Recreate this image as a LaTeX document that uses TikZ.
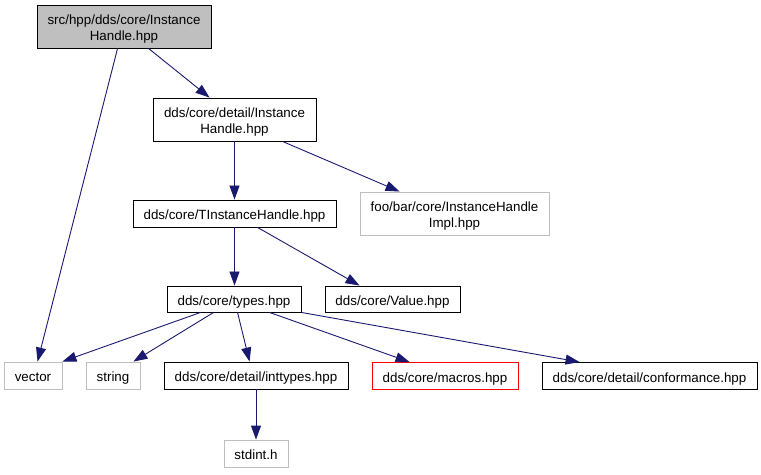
\documentclass[tikz,border=0pt]{standalone}
\usepackage{fontspec}
\setmainfont{Liberation Sans}
\usetikzlibrary{arrows.meta}
\definecolor{edgeblue}{HTML}{191970}
\definecolor{lgray}{HTML}{BFBFBF}
\newcommand\boxlbl[1]{\raisebox{-3bp}[\height][\depth]{\begin{tabular}{@{}c@{}}#1\end{tabular}}}
\tikzset{
  box/.style={draw=black,line width=0.9bp,inner sep=0pt,font=\fontsize{13.4}{16.1}\selectfont},
  greybox/.style={box,draw=lgray},
  redbox/.style={box,draw=red},
  edge/.style={draw=edgeblue,line width=0.9bp,-{Triangle[length=14bp,width=10bp]}},
}
\begin{document}
\begin{tikzpicture}[x=1bp,y=-1bp]
\useasboundingbox (0,0) rectangle (761,475);
\node[box,fill=lgray,minimum width=174bp,minimum height=43bp] (top) at (124,26.5) {\boxlbl{src/hpp/dds/core/Instance\\Handle.hpp}};
\node[box,minimum width=163bp,minimum height=43bp] (det) at (234.5,119.5) {\boxlbl{dds/core/detail/Instance\\Handle.hpp}};
\node[box,minimum width=203bp,minimum height=27bp] (ti) at (234.5,213.5) {\boxlbl{dds/core/TInstanceHandle.hpp}};
\node[greybox,minimum width=189bp,minimum height=43bp] (foo) at (454.5,213.5) {\boxlbl{foo/bar/core/InstanceHandle\\Impl.hpp}};
\node[box,minimum width=134bp,minimum height=26bp] (types) at (234,299) {\boxlbl{dds/core/types.hpp}};
\node[box,minimum width=135bp,minimum height=26bp] (val) at (392.5,299) {\boxlbl{dds/core/Value.hpp}};
\node[greybox,minimum width=58bp,minimum height=27bp] (vec) at (33,375.5) {\boxlbl{vector}};
\node[greybox,minimum width=54bp,minimum height=27bp] (str) at (113,375.5) {\boxlbl{string}};
\node[box,minimum width=184bp,minimum height=27bp] (int) at (256,375.5) {\boxlbl{dds/core/detail/inttypes.hpp}};
\node[redbox,minimum width=146bp,minimum height=27bp] (mac) at (445,376) {\boxlbl{dds/core/macros.hpp}};
\node[box,minimum width=215bp,minimum height=27bp] (conf) at (649.5,376) {\boxlbl{dds/core/detail/conformance.hpp}};
\node[greybox,minimum width=64bp,minimum height=27bp] (std) at (256,453.5) {\boxlbl{stdint.h}};

\draw[edge] ([xshift=81bp]top.south west) -- ([xshift=34bp]vec.north west);
\draw[edge] ([xshift=112bp]top.south west) -- ([xshift=57bp]det.north west);
\draw[edge] (det.south) -- (ti.north);
\draw[edge] ([xshift=130bp]det.south west) -- ([xshift=40bp]foo.north west);
\draw[edge] (ti.south) -- (ti.south |- types.north);
\draw[edge] ([xshift=125bp]ti.south west) -- ([xshift=35bp]val.north west);
\draw[edge] ([xshift=34bp]types.south west) -- (vec.north east);
\draw[edge] ([xshift=47bp]types.south west) -- ([xshift=-7bp]str.north east);
\draw[edge] ([xshift=71bp]types.south west) -- ([xshift=86bp]int.north west);
\draw[edge] ([xshift=103bp]types.south west) -- ([xshift=38bp]mac.north west);
\draw[edge] (types.south east) -- ([xshift=38bp]conf.north west);
\draw[edge] (int.south) -- (std.north);
\end{tikzpicture}
\end{document}
